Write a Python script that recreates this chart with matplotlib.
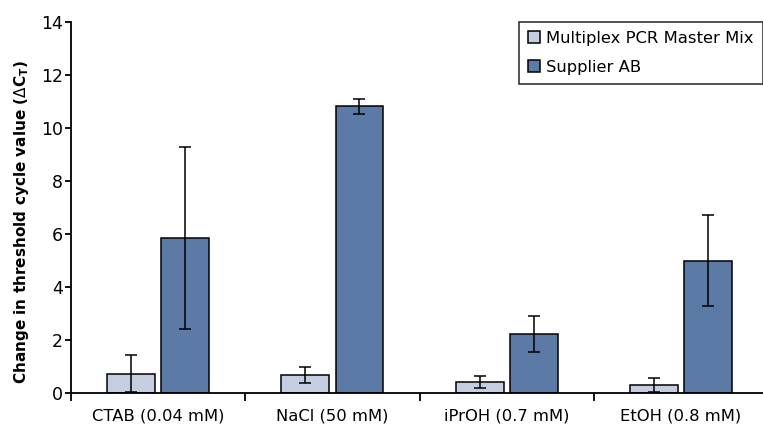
import numpy as np
import matplotlib.pyplot as plt
from matplotlib.ticker import FixedLocator

# data
categories = ["CTAB (0.04 mM)", "NaCl (50 mM)", "iPrOH (0.7 mM)", "EtOH (0.8 mM)"]
qiagen = [0.72, 0.68, 0.42, 0.30]
qiagen_err = [0.70, 0.30, 0.24, 0.25]
supplier = [5.86, 10.82, 2.22, 5.0]
supplier_err = [3.43, 0.29, 0.68, 1.70]

plt.rcParams['font.family'] = ['DejaVu Sans']

fig = plt.figure(figsize=(7.63, 4.25), dpi=100)
ax = fig.add_axes([71/763, 1-393/425, 1-71/763, (393-22)/425])

x = np.arange(len(categories))
w = 0.275
off = 0.155
ax.bar(x - off, qiagen, w, color="#c5cde0", edgecolor="black", linewidth=1.1,
       label="Multiplex PCR Master Mix", zorder=2)
ax.bar(x + off, supplier, w, color="#5b7aa6", edgecolor="black", linewidth=1.1,
       label="Supplier AB", zorder=2)
ax.errorbar(x - off, qiagen, yerr=qiagen_err, fmt="none", ecolor="black",
            elinewidth=1.1, capsize=4.5, capthick=1.1, zorder=3)
ax.errorbar(x + off, supplier, yerr=supplier_err, fmt="none", ecolor="black",
            elinewidth=1.1, capsize=4.5, capthick=1.1, zorder=3)

ax.set_xlim(-0.5, 3.47)
ax.set_ylim(0, 14)
ax.set_yticks(np.arange(0, 15, 2))
ax.set_xticks(x)
ax.set_xticklabels(categories, fontsize=11.8)
ax.tick_params(axis='x', which='major', length=0, pad=11)
ax.xaxis.set_minor_locator(FixedLocator([-0.5, 0.5, 1.5, 2.5]))
ax.tick_params(axis='x', which='minor', length=6, width=1.3, direction='out')
ax.tick_params(axis='y', length=4, width=1.3, labelsize=12.5, pad=2)

for s in ['top', 'right']:
    ax.spines[s].set_visible(False)
for s in ['left', 'bottom']:
    ax.spines[s].set_linewidth(1.3)

ax.set_ylabel(r"Change in threshold cycle value ($\Delta$C$_\mathregular{T}$)",
              fontsize=11, fontweight='bold')
ax.yaxis.set_label_coords(-0.058, 0.46)

leg = ax.legend(loc="upper right", bbox_to_anchor=(1.0, 1.0), fontsize=11.8,
                frameon=True, fancybox=False, edgecolor="black",
                handlelength=0.75, handleheight=0.75, handletextpad=0.4,
                borderaxespad=0.0, borderpad=0.55, labelspacing=0.85)
leg.get_frame().set_linewidth(1.2)

fig.savefig("out.png", dpi=100)
